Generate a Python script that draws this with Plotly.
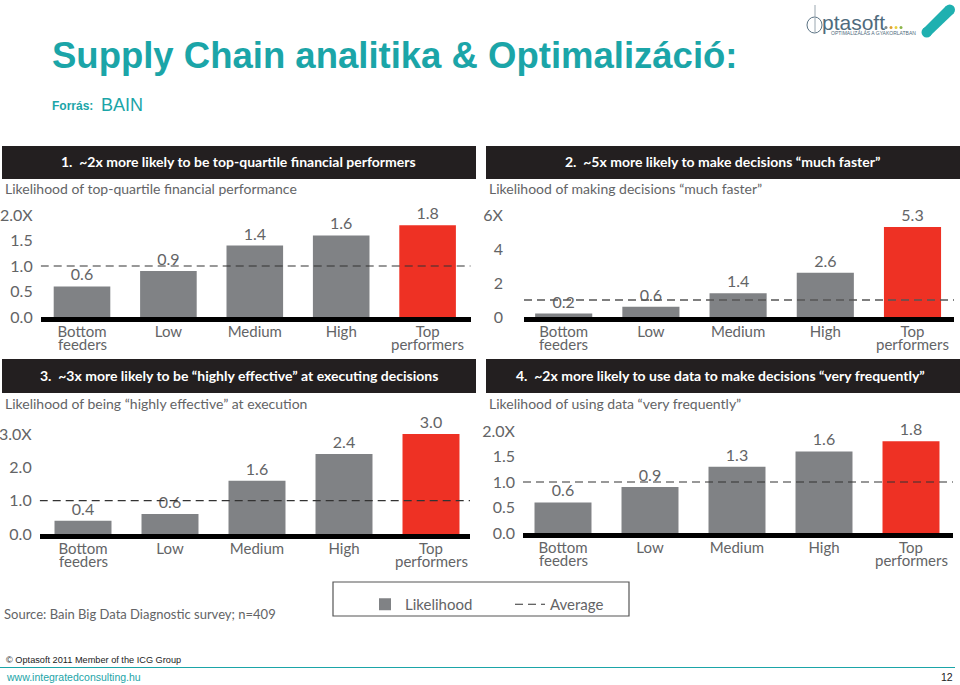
import plotly.graph_objects as go

# --- DATA ---
CATEGORIES = ["Bottom", "Low", "Medium", "High", "Top"]
CATEGORIES_LINE2 = ["feeders", "", "", "", "performers"]

VALUES_1 = [0.6, 0.9, 1.4, 1.6, 1.8]
VALUES_2 = [0.2, 0.6, 1.4, 2.6, 5.3]
VALUES_3 = [0.4, 0.6, 1.6, 2.4, 3.0]
VALUES_4 = [0.6, 0.9, 1.3, 1.6, 1.8]
AVERAGE = 1.0

TICKS_1 = [0, 0.5, 1, 1.5, 2]
TICKS_2 = [0, 2, 4, 6]
TICKS_3 = [0, 1, 2, 3]
TICKS_4 = [0, 0.5, 1, 1.5, 2]
TICKTEXT_1 = ["0.0", "0.5", "1.0", "1.5", "2.0X"]
TICKTEXT_2 = ["0", "2", "4", "6X"]
TICKTEXT_3 = ["0.0", "1.0", "2.0", "3.0X"]
TICKTEXT_4 = ["0.0", "0.5", "1.0", "1.5", "2.0X"]

HEADERS = [
    "1.  ~2x more likely to be top-quartile financial performers",
    "2.  ~5x more likely to make decisions “much faster”",
    "3.  ~3x more likely to be “highly effective” at executing decisions",
    "4.  ~2x more likely to use data to make decisions “very frequently”",
]
SUBTITLES = [
    "Likelihood of top-quartile financial performance",
    "Likelihood of making decisions “much faster”",
    "Likelihood of being “highly effective” at execution",
    "Likelihood of using data “very frequently”",
]

# --- STYLE ---
W, H = 960, 685
TEAL = "#1ba5a8"
GREY_BAR = "#808285"
RED_BAR = "#ee3124"
HEAD_BG = "#231f20"
TXT = "#636466"
FONT = "Lato"
ARIAL = "Liberation Sans"

# left, right, first bar centre, pitch, top, baseline, tick standoff, header box, header text centre
PANELS = [
    dict(l=40.7, r=470.7, c0=82.0, p=86.4, top=215, base=317, off=7, box=(2, 476, 146, 179), hc=238),
    dict(l=524, r=954, c0=563.7, p=87.2, top=215, base=317, off=20, box=(486, 960, 146, 179), hc=722),
    dict(l=39.7, r=470, c0=83.0, p=87.0, top=434, base=534, off=7, box=(2, 476, 359, 393), hc=239),
    dict(l=523, r=953, c0=563.0, p=87.0, top=431, base=533, off=7, box=(486, 960, 359, 393), hc=720),
]
SERIES = [
    (VALUES_1, TICKS_1, TICKTEXT_1),
    (VALUES_2, TICKS_2, TICKTEXT_2),
    (VALUES_3, TICKS_3, TICKTEXT_3),
    (VALUES_4, TICKS_4, TICKTEXT_4),
]


def px(x):
    return x / W


def py(y):
    return 1 - y / H


def label(text, x, y, size, color=TXT, family=FONT, anchor="left"):
    fig.add_annotation(
        text=text, x=px(x), y=py(y), xref="paper", yref="paper", showarrow=False,
        xanchor=anchor, yanchor="middle", font=dict(family=family, size=size, color=color),
    )


def box(x0, x1, y0, y1, fill=None, line=None, lw=0, kind="rect"):
    fig.add_shape(
        type=kind, xref="paper", yref="paper", x0=px(x0), x1=px(x1), y0=py(y0), y1=py(y1),
        fillcolor=fill, line=dict(color=line, width=lw), layer="below" if kind == "rect" and line is None else "above",
    )


fig = go.Figure()

for i, (pan, (vals, ticks, ticktext)) in enumerate(zip(PANELS, SERIES)):
    n = "" if i == 0 else str(i + 1)
    xr = [(pan["l"] - pan["c0"]) / pan["p"], (pan["r"] - pan["c0"]) / pan["p"]]

    fig.add_trace(go.Bar(
        x=list(range(len(CATEGORIES))), y=vals, width=0.655, name="Likelihood",
        xaxis="x" + n, yaxis="y" + n, legendgroup="l", showlegend=i == 0,
        marker=dict(color=[GREY_BAR] * 4 + [RED_BAR], line=dict(width=0)),
        text=[f"{v:.1f}" for v in vals], textposition="outside", cliponaxis=False,
        textfont=dict(family=FONT, size=16, color=TXT), constraintext="none",
    ))
    fig.add_trace(go.Scatter(
        x=xr, y=[AVERAGE, AVERAGE], mode="lines", name="Average",
        xaxis="x" + n, yaxis="y" + n, legendgroup="a", showlegend=i == 0,
        line=dict(color="#555555" if i == 1 else "#333333", width=1.5 if i == 1 else 1.1, dash="8px,5px"),
    ))

    fig.update_layout({
        "xaxis" + n: dict(
            domain=[px(pan["l"]), px(pan["r"])], range=xr, anchor="y" + n,
            tickmode="array", tickvals=list(range(len(CATEGORIES))), ticktext=CATEGORIES,
            showgrid=False, zeroline=False, showline=True, linecolor="black", linewidth=4.5,
            ticks="", ticklabelstandoff=-3, tickfont=dict(family=FONT, size=15, color=TXT),
        ),
        "yaxis" + n: dict(
            domain=[py(pan["base"]), py(pan["top"])], range=[0, ticks[-1]], anchor="x" + n,
            tickmode="array", tickvals=ticks, ticktext=ticktext,
            showgrid=False, zeroline=False, showline=False, ticks="",
            ticklabelstandoff=pan["off"], tickfont=dict(family=FONT, size=16, color=TXT),
        ),
    })

    x0, x1, y0, y1 = pan["box"]
    box(x0, x1, y0, y1, fill=HEAD_BG)
    label(f"<b>{HEADERS[i]}</b>", pan["hc"], (y0 + y1) / 2 - 1, 14, color="white", anchor="center")
    label(SUBTITLES[i], x0 + 1, y1 + 10, 14)
    for j, line2 in enumerate(CATEGORIES_LINE2):
        if line2:
            label(line2, pan["c0"] + j * pan["p"], pan["base"] + 27, 15, anchor="center")

# page title block
label("<b>Supply Chain analitika &amp; Optimalizáció:</b>", 50, 55, 36.5, color=TEAL, family=ARIAL)
label("<b>Forrás:</b>", 50, 106, 12, color=TEAL, family=ARIAL)
label("BAIN", 99, 105, 18, color=TEAL, family=ARIAL)

# logo
box(807, 822, 17, 33, line="#5b7384", lw=1, kind="circle")
fig.add_shape(type="line", xref="paper", yref="paper", x0=px(815), x1=px(815), y0=py(5), y1=py(33),
              line=dict(color="#9aa7b0", width=1))
label("ptasoft", 820, 23, 21, color="#4f6b7d", family=ARIAL)
label("OPTIMALIZÁLÁS A GYAKORLATBAN", 829, 33, 5, color="#4f6b7d", family=ARIAL)
for cx, col in zip([886, 891, 896, 901], ["#7f8c8d", "#e0a030", "#e8cf3a", "#8bb54a"]):
    box(cx - 1.5, cx + 1.5, 26, 29, fill=col, line=col, lw=0, kind="circle")
fig.add_shape(type="path", xref="paper", yref="paper", fillcolor="#1fb0b0", line=dict(width=0),
              path=f"M {px(923)} {py(29)} L {px(946)} {py(6)} L {px(954)} {py(13)} L {px(930)} {py(36)} Z")
box(921.5, 932, 27, 37.5, fill="#1fb0b0", line="#1fb0b0", lw=0, kind="circle")
box(944.5, 955, 4.5, 15, fill="#1fb0b0", line="#1fb0b0", lw=0, kind="circle")

# source + legend frame
label("Source: Bain Big Data Diagnostic survey; n=409", 2, 614, 13)
box(333, 629, 582, 616, line="#555555", lw=1.2)

# footer
label("© Optasoft 2011 Member of the ICG Group", 4, 660, 9.2, color="#222222", family=ARIAL)
fig.add_shape(type="line", xref="paper", yref="paper", x0=0, x1=px(955), y0=py(667.5), y1=py(667.5),
              line=dict(color=TEAL, width=1))
label("www.integratedconsulting.hu", 4, 677, 10.5, color=TEAL, family=ARIAL)
label("12", 955, 677, 10.5, color="#222222", family=ARIAL, anchor="right")

fig.update_layout(
    width=W, height=H, autosize=False, margin=dict(l=0, r=0, t=0, b=0, autoexpand=False),
    paper_bgcolor="white", plot_bgcolor="rgba(0,0,0,0)",
    legend=dict(
        orientation="h", x=px(365), y=py(588), xanchor="left", yanchor="top",
        entrywidth=100, entrywidthmode="pixels", itemwidth=30, bgcolor="rgba(0,0,0,0)",
        font=dict(family=FONT, size=15, color=TXT), traceorder="normal",
    ),
)

# page has a default 8px body margin, drop it so the figure fills the window
fig.write_html("out.html", config={"displayModeBar": False}, post_script="document.body.style.margin='0';")
